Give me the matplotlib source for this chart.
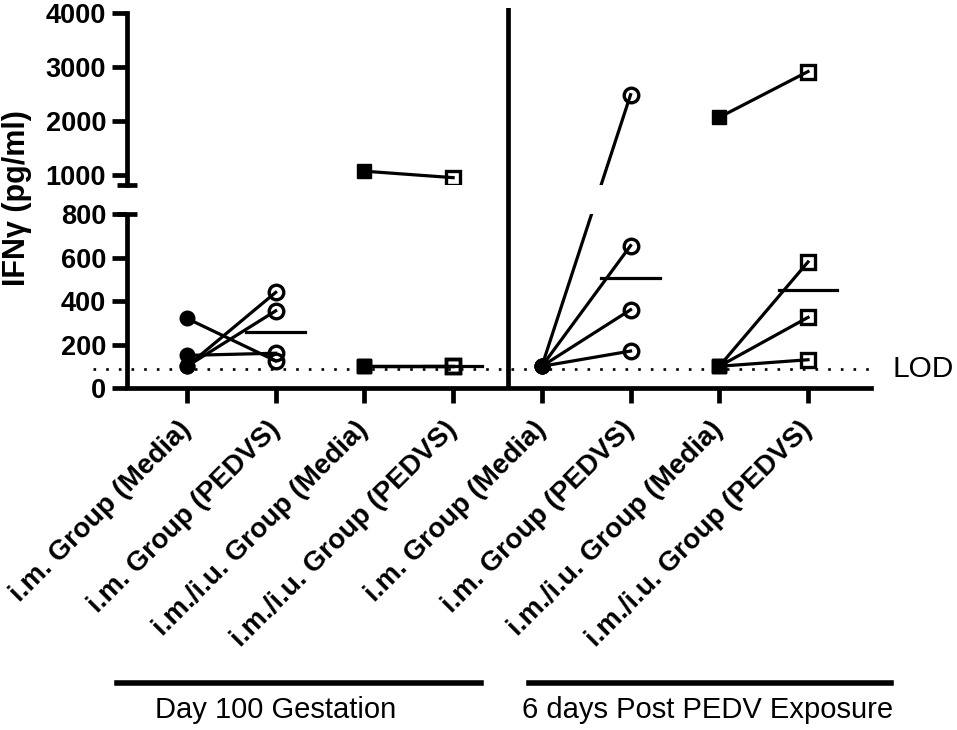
import numpy as np
import matplotlib
matplotlib.use("Agg")
import matplotlib.pyplot as plt

plt.rcParams['font.family'] = ['Liberation Sans', 'DejaVu Sans']

# x categories (tick labels)
labels = ["i.m. Group (Media)", "i.m. Group (PEDVS)",
          "i.m./i.u. Group (Media)", "i.m./i.u. Group (PEDVS)",
          "i.m. Group (Media)", "i.m. Group (PEDVS)",
          "i.m./i.u. Group (Media)", "i.m./i.u. Group (PEDVS)"]

# paired values, IFN-gamma pg/ml (media -> PEDVS, same animal)
im_media_d100 = [320, 150, 100, 100]
im_pedvs_d100 = [125, 160, 440, 355]
imiu_media_d100 = [1070, 100, 100, 100]
imiu_pedvs_d100 = [950, 100, 100, 100]
im_media_pe = [100, 100, 100, 100]
im_pedvs_pe = [2490, 655, 360, 170]
imiu_media_pe = [2070, 100, 100, 100]
imiu_pedvs_pe = [2920, 580, 325, 130]

LOD = 87
groups = ["Day 100 Gestation", "6 days Post PEDV Exposure"]

pairs = [(0, im_media_d100, im_pedvs_d100, 'o'),
         (2, imiu_media_d100, imiu_pedvs_d100, 's'),
         (4, im_media_pe, im_pedvs_pe, 'o'),
         (6, imiu_media_pe, imiu_pedvs_pe, 's')]

# broken y axis: 0-800 and 820-4000 with different scales
bp_data = [-1000, 0, 800, 820, 10000]
bp_px = [-217.5, 0, 174, 203.5, 203.5 + 9180 * 0.0539]


def forward(y):
    return np.interp(y, bp_data, bp_px)


def inverse(p):
    return np.interp(p, bp_px, bp_data)


fig = plt.figure(figsize=(9.57, 7.3), dpi=100)
ax = fig.add_axes([127 / 957, 1 - 388 / 730, 744 / 957, 380 / 730])
ax.set_yscale('function', functions=(forward, inverse))
ax.set_ylim(0, 4100)
ax.set_xlim(-0.676, 7.71)

lw = 3.4
for x0, media, pedvs, mk in pairs:
    for m, p in zip(media, pedvs):
        ax.plot([x0, x0 + 1], [m, p], color='black', lw=2.3, zorder=2)
    ax.plot([x0] * len(media), media, ls='none', marker=mk, ms=10.5,
            color='black', zorder=3)
    ax.plot([x0 + 1] * len(pedvs), pedvs, ls='none', marker=mk, ms=10.5 if mk == 'o' else 9.5,
            mfc='none', mec='black', mew=2.4, zorder=3)
    med = np.median(pedvs)
    ax.plot([x0 + 1 - 0.33, x0 + 1 + 0.33], [med, med], color='black', lw=2.3, zorder=2)

# gap of the axis break
ax.axhspan(800, 820, color='white', zorder=4, lw=0)
# separator between the two time points
ax.axvline(3.62, color='black', lw=lw, zorder=5)

# LOD dotted line
ax.axhline(LOD, xmin=-0.046, xmax=1.0, color='black', lw=1.9, ls=(0, (1, 3.8)),
           clip_on=False, zorder=1)
ax.text(7.95, LOD, "LOD", fontsize=21.5, va='center', ha='left')

# spines
for s in ['top', 'right', 'left']:
    ax.spines[s].set_visible(False)
ax.spines['bottom'].set_linewidth(lw)
yt = ax.get_yaxis_transform()
ax.plot([0, 0], [0, 800], transform=yt, color='black', lw=lw, clip_on=False,
        solid_capstyle='butt', zorder=6)
ax.plot([0, 0], [820, 4000], transform=yt, color='black', lw=lw, clip_on=False,
        solid_capstyle='projecting', zorder=6)
ax.plot([0, 0], [800, 820], transform=yt, ls='none', marker='_', ms=15, mew=lw,
        color='black', clip_on=False, zorder=6)

ax.set_yticks([0, 200, 400, 600, 800, 1000, 2000, 3000, 4000])
ax.set_yticklabels(['0', '200', '400', '600', '800', '1000', '2000', '3000', '4000'],
                   fontweight='bold', fontsize=19.5)
ax.set_xticks(range(len(labels)))
ax.set_xticklabels(labels, rotation=45, ha='right', rotation_mode='anchor', va='center',
                   fontweight='bold', fontsize=20)
ax.tick_params(axis='both', direction='out', length=11, width=lw)
ax.tick_params(axis='y', pad=4)
ax.tick_params(axis='x', pad=16)
ax.minorticks_off()

ax.set_ylabel("IFNγ (pg/ml)", fontsize=22, fontweight='bold')
ax.yaxis.set_label_coords(-0.128, 0.5)

# group brackets below the labels
xt = ax.get_xaxis_transform()
ax.plot([-0.79, 3.31], [-0.776, -0.776], transform=xt, color='black', lw=4, clip_on=False)
ax.plot([3.86, 7.94], [-0.776, -0.776], transform=xt, color='black', lw=4, clip_on=False)
ax.text(1.0, -0.868, groups[0], transform=xt, ha='center', va='baseline', fontsize=21)
ax.text(5.87, -0.868, groups[1], transform=xt, ha='center', va='baseline', fontsize=21)

fig.savefig("out.png", dpi=100)
